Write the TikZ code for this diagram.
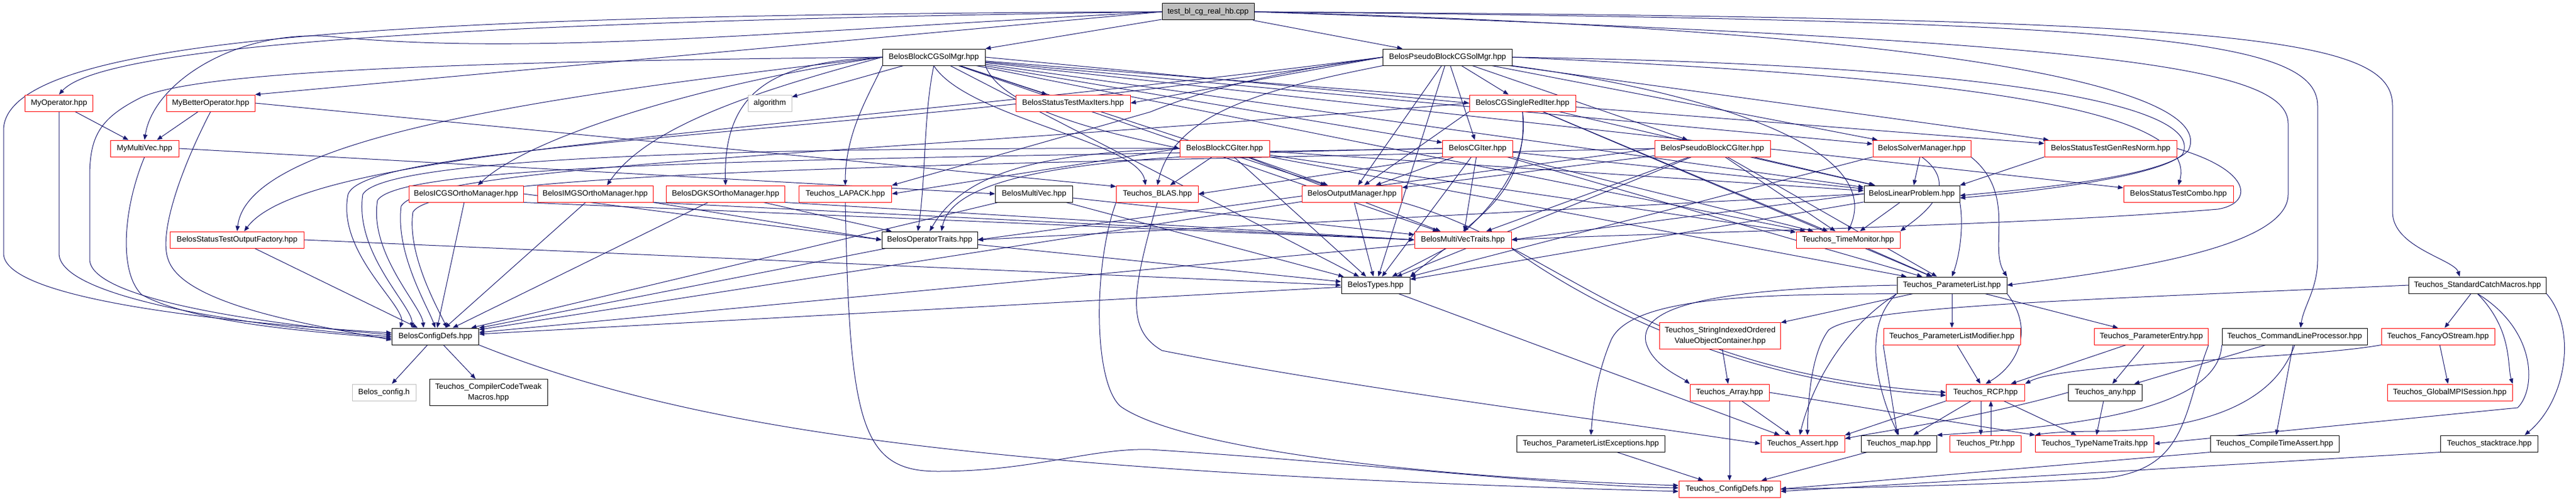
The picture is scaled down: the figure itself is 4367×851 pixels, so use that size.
\documentclass[tikz,border=0pt]{standalone}
\usepackage{fontspec}
\setmainfont{Liberation Sans}
\usetikzlibrary{arrows.meta,backgrounds}
\definecolor{eblue}{RGB}{25,25,112}
\definecolor{nred}{RGB}{255,0,0}
\definecolor{ngray}{RGB}{191,191,191}
\newcommand{\nf}{\fontsize{13.3}{18}\selectfont}
\begin{document}
\begin{tikzpicture}[x=1pt,y=-1pt,
 nd/.style={line width=1pt, minimum height=28pt, inner sep=0pt, font=\nf, fill=white},
 rn/.style={nd, draw=nred},
 bn/.style={nd, draw=black},
 gn/.style={nd, draw=ngray},
 e/.style={draw=eblue, line width=1pt, -{Triangle[length=9pt,width=7pt]}},
]
\useasboundingbox (0,0) rectangle (4367,851);
% ---------------- nodes
\node[nd, draw=black, fill=ngray, minimum width=156pt] (T) at (2048,20) {test\_bl\_cg\_real\_hb.cpp};
\node[bn, minimum width=174pt] (B) at (1583,97) {BelosBlockCGSolMgr.hpp};
\node[bn, minimum width=219pt] (P) at (2454,97) {BelosPseudoBlockCGSolMgr.hpp};
\node[rn, minimum width=115pt] (MyOp) at (100,175) {MyOperator.hpp};
\node[rn, minimum width=150pt] (MyBOp) at (357,175) {MyBetterOperator.hpp};
\node[gn, minimum width=74pt] (alg) at (1305,175) {algorithm};
\node[rn, minimum width=194pt] (MaxIt) at (1819,175) {BelosStatusTestMaxIters.hpp};
\node[rn, minimum width=180pt] (CGSR) at (2581,175) {BelosCGSingleRedIter.hpp};
\node[rn, minimum width=116pt] (MyMV) at (245,252) {MyMultiVec.hpp};
\node[rn, minimum width=152pt] (BCGI) at (2076,252) {BelosBlockCGIter.hpp};
\node[rn, minimum width=119pt] (CGI) at (2505,252) {BelosCGIter.hpp};
\node[rn, minimum width=196pt] (PBCGI) at (2903,252) {BelosPseudoBlockCGIter.hpp};
\node[rn, minimum width=166pt] (SM) at (3258,252) {BelosSolverManager.hpp};
\node[rn, minimum width=224pt] (GRN) at (3578,252) {BelosStatusTestGenResNorm.hpp};
\node[rn, minimum width=194pt] (ICGS) at (790,329) {BelosICGSOrthoManager.hpp};
\node[rn, minimum width=196pt] (IMGS) at (1009,329) {BelosIMGSOrthoManager.hpp};
\node[rn, minimum width=201pt] (DGKS) at (1230,329) {BelosDGKSOrthoManager.hpp};
\node[rn, minimum width=157pt] (LAPACK) at (1433,329) {Teuchos\_LAPACK.hpp};
\node[bn, minimum width=131pt] (MV) at (1753,329) {BelosMultiVec.hpp};
\node[rn, minimum width=139pt] (BLAS) at (1962,329) {Teuchos\_BLAS.hpp};
\node[rn, minimum width=169pt] (OM) at (2292,329) {BelosOutputManager.hpp};
\node[bn, minimum width=162pt] (LP) at (3241,329) {BelosLinearProblem.hpp};
\node[rn, minimum width=186pt] (Combo) at (3693,329) {BelosStatusTestCombo.hpp};
\node[rn, minimum width=227pt] (STOF) at (402,407) {BelosStatusTestOutputFactory.hpp};
\node[bn, minimum width=162pt] (OT) at (1576,407) {BelosOperatorTraits.hpp};
\node[rn, minimum width=164pt] (MVT) at (2480,407) {BelosMultiVecTraits.hpp};
\node[rn, minimum width=176pt] (TM) at (3133,407) {Teuchos\_TimeMonitor.hpp};
\node[bn, minimum width=116pt] (BT) at (2332,484) {BelosTypes.hpp};
\node[bn, minimum width=186pt] (PL) at (3309,484) {Teuchos\_ParameterList.hpp};
\node[bn, minimum width=233pt] (SCM) at (4200,484) {Teuchos\_StandardCatchMacros.hpp};
\node[bn, minimum width=147pt] (BCD) at (738,571) {BelosConfigDefs.hpp};
\node[rn, minimum width=205pt, minimum height=45pt, align=center] (SIO) at (2916,570) {Teuchos\_StringIndexedOrdered\\ValueObjectContainer.hpp};
\node[rn, minimum width=232pt] (PLM) at (3309,571) {Teuchos\_ParameterListModifier.hpp};
\node[rn, minimum width=193pt] (PE) at (3647,571) {Teuchos\_ParameterEntry.hpp};
\node[bn, minimum width=246pt] (CLP) at (3890,571) {Teuchos\_CommandLineProcessor.hpp};
\node[rn, minimum width=192pt] (FOS) at (4133,571) {Teuchos\_FancyOStream.hpp};
\node[gn, minimum width=108pt] (Bcfg) at (651,666) {Belos\_config.h};
\node[bn, minimum width=200pt, minimum height=45pt, align=center] (CCTM) at (828,666) {Teuchos\_CompilerCodeTweak\\Macros.hpp};
\node[rn, minimum width=134pt] (Arr) at (2932,666) {Teuchos\_Array.hpp};
\node[rn, minimum width=133pt] (RCP) at (3366,666) {Teuchos\_RCP.hpp};
\node[bn, minimum width=125pt] (any) at (3569,666) {Teuchos\_any.hpp};
\node[rn, minimum width=212pt] (MPI) at (4153,666) {Teuchos\_GlobalMPISession.hpp};
\node[bn, minimum width=251pt] (PLE) at (2697,753) {Teuchos\_ParameterListExceptions.hpp};
\node[rn, minimum width=142pt] (Asrt) at (3056,753) {Teuchos\_Assert.hpp};
\node[bn, minimum width=128pt] (map) at (3219,753) {Teuchos\_map.hpp};
\node[rn, minimum width=121pt] (Ptr) at (3366,753) {Teuchos\_Ptr.hpp};
\node[rn, minimum width=201pt] (TNT) at (3551,753) {Teuchos\_TypeNameTraits.hpp};
\node[bn, minimum width=218pt] (CTA) at (3856,753) {Teuchos\_CompileTimeAssert.hpp};
\node[bn, minimum width=165pt] (stk) at (4220,753) {Teuchos\_stacktrace.hpp};
\node[rn, minimum width=172pt] (TCD) at (2932,830) {Teuchos\_ConfigDefs.hpp};
% ---------------- edges
\begin{pgfonlayer}{background}
\fill[white] (0,0) rectangle (4367,851);
% test file
\draw[e] (T) -- (B);
\draw[e] (T) -- (P);
\draw[e] (T.west) -- (MyBOp.north east);
\draw[e] (T.west) .. controls (900,35) and (180,70) .. (MyOp.north);
\draw[e] (T.west) .. controls (1300,55) and (900,95) .. (560,62) .. controls (400,50) and (260,140) .. (MyMV.north);
\draw[e] (T.west) .. controls (700,25) and (10,60) .. (6,220) -- (6,430) .. controls (6,520) and (500,555) .. ([yshift=6pt]BCD.west);
\draw[e] (T.east) .. controls (3300,50) and (3760,150) .. (3710,255) .. controls (3670,300) and (3450,320) .. ([yshift=-3pt]LP.east);
\draw[e] (T.east) .. controls (3550,70) and (3879,110) .. (3879,210) -- (3879,330) .. controls (3879,420) and (3600,460) .. (PL.east);
\draw[e] (T.east) .. controls (3600,35) and (3929,60) .. (3929,180) -- (3929,440) .. controls (3929,490) and (3905,520) .. ([xshift=10pt]CLP.north);
\draw[e] (T.east) .. controls (3800,30) and (4056,60) .. (4056,180) -- (4056,360) .. controls (4056,420) and (4160,440) .. ([xshift=-30pt]SCM.north);
% BelosBlockCGSolMgr
\draw[e] (B) -- (alg);
\draw[e] (B) -- (MaxIt);
\draw[e] (B.south west) .. controls (1480,150) and (1433,220) .. (LAPACK.north);
\draw[e] (B.west) .. controls (1330,105) and (1225,140) .. (DGKS.north);
\draw[e] (B.west) .. controls (1200,140) and (900,230) .. ([xshift=20pt]ICGS.north);
\draw[e] (B.west) .. controls (1300,150) and (1100,210) .. ([xshift=20pt]IMGS.north);
\draw[e] (B.west) .. controls (950,160) and (420,230) .. (STOF.north);
\draw[e] (B.west) .. controls (700,105) and (330,125) .. (240,165) .. controls (170,200) and (152,230) .. (152,300) -- (152,440) .. controls (152,520) and (560,560) .. ([yshift=3pt]BCD.west);
\draw[e] (B.south east) .. controls (1700,190) and (1900,230) .. (BCGI.west);
\draw[e] (B.south) .. controls (1640,200) and (1930,240) .. ([xshift=-20pt]BLAS.north);
\draw[e] (B.south) .. controls (1565,200) and (1570,300) .. ([xshift=-20pt]OT.north);
\draw[e] (B) -- (MVT);
\draw[e] (B) -- (OM);
\draw[e] (B) -- (BT);
\draw[e] (B) -- (CGI);
\draw[e] (B.east) -- (CGSR.west);
\draw[e] (B) -- (SM);
\draw[e] (B) -- (GRN);
\draw[e] (B) -- (Combo);
\draw[e] (B) -- (LP);
\draw[e] (B) -- (TM);
% BelosPseudoBlockCGSolMgr
\draw[e] (P) -- (CGSR);
\draw[e] (P) -- (CGI);
\draw[e] (P) -- (PBCGI);
\draw[e] (P) -- (OM);
\draw[e] (P) -- (BT);
\draw[e] (P.west) -- (MaxIt.east);
\draw[e] (P.west) .. controls (2100,130) and (2000,170) .. (1950,190) -- (LAPACK.north east);
\draw[e] (P.south west) .. controls (2150,150) and (1990,190) .. (BLAS.north);
\draw[e] (P.west) .. controls (1300,230) and (520,250) .. ([xshift=12pt]STOF.north);
\draw[e] (P.west) .. controls (1500,230) and (620,240) .. (590,330) .. controls (570,430) and (690,520) .. ([xshift=-60pt]BCD.north);
\draw[e] (P) -- (SM);
\draw[e] (P) -- (GRN);
\draw[e] (P.east) .. controls (3300,130) and (3730,180) .. (Combo.north);
\draw[e] (P.east) .. controls (3400,110) and (3740,180) .. (3700,262) .. controls (3660,300) and (3450,325) .. ([yshift=-7pt]LP.east);
\draw[e] (P.south east) .. controls (2850,150) and (3200,240) .. (TM.north);
% BelosBlockCGIter
\draw[e] (BCGI.west) .. controls (1800,260) and (1640,280) .. (OT.north);
\draw[e] (BCGI) -- (BLAS);
\draw[e] (BCGI.west) -- (LAPACK.east);
\draw[e] (BCGI) -- (MVT);
\draw[e] (BCGI) -- (OM);
\draw[e] (BCGI) -- (BT);
\draw[e] (BCGI) -- (LP);
\draw[e] (BCGI) -- (TM);
\draw[e] (BCGI) -- (PL);
\draw[e] (BCGI.west) .. controls (1300,250) and (650,265) .. (615,330) .. controls (600,430) and (700,520) .. ([xshift=-40pt]BCD.north);
% BelosCGIter
\draw[e] (CGI) -- (OM);
\draw[e] (CGI) -- (MVT);
\draw[e] (CGI) -- (BT);
\draw[e] (CGI) -- (LP);
\draw[e] (CGI.west) .. controls (2000,260) and (1620,270) .. ([xshift=20pt]OT.north);
\draw[e] (CGI) -- (TM);
\draw[e] (CGI) -- (PL);
\draw[e] (CGI.south west) -- (BLAS.east);
\draw[e] (CGI.west) .. controls (1400,270) and (680,275) .. (640,340) .. controls (625,430) and (715,520) .. ([xshift=-20pt]BCD.north);
% BelosCGSingleRedIter
\draw[e] (CGSR.south west) -- (OM);
\draw[e] (CGSR.south) .. controls (2590,300) and (2530,350) .. (MVT.north);
\draw[e] (CGSR.south) .. controls (2600,320) and (2450,420) .. (BT.north east);
\draw[e] (CGSR) -- (LP);
\draw[e] (CGSR) -- (TM);
\draw[e] (CGSR) -- (PL);
\draw[e] (CGSR.west) .. controls (1500,260) and (720,280) .. (680,350) .. controls (670,430) and (725,520) .. (BCD.north);
% BelosPseudoBlockCGIter
\draw[e] (PBCGI) -- (OM);
\draw[e] (PBCGI) -- (MVT);
\draw[e] (PBCGI) -- (BT);
\draw[e] (PBCGI) -- (LP);
\draw[e] (PBCGI) -- (TM);
\draw[e] (PBCGI) -- (PL);
\draw[e] (PBCGI.west) -- (OT.east);
\draw[e] (PBCGI.west) .. controls (1600,280) and (740,290) .. (700,360) .. controls (690,430) and (740,520) .. ([xshift=20pt]BCD.north);
% BelosSolverManager
\draw[e] (SM) -- (LP);
\draw[e] (SM.south west) -- (BT.north east);
\draw[e] (SM.south east) .. controls (3420,330) and (3370,420) .. (PL.north east);
\draw[e] (SM.south) .. controls (3330,320) and (3250,370) .. (TM.north east);
% BelosStatusTestGenResNorm
\draw[e] (GRN.south west) -- (LP.north east);
\draw[e] (GRN.east) .. controls (3820,290) and (3820,345) .. (3760,355) .. controls (3400,385) and (2800,395) .. (MVT.east);
% BelosLinearProblem
\draw[e] (LP.west) -- (MVT.east);
\draw[e] (LP.west) -- (OT.east);
\draw[e] (LP) -- (TM);
\draw[e] (LP.south east) .. controls (3330,390) and (3320,440) .. (PL.north);
\draw[e] (LP) -- (BT);
% BelosOutputManager
\draw[e] (OM) -- (BT);
\draw[e] (OM) -- (BCD);
\draw[e] (OM.south east) .. controls (2650,420) and (2780,630) .. (RCP.west);
% BelosMultiVecTraits
\draw[e] (MVT) -- (BT);
\draw[e] (MVT.south east) .. controls (2700,520) and (2950,650) .. ([yshift=-5pt]RCP.west);
\draw[e] (MVT) -- (BCD);
% BelosOperatorTraits
\draw[e] (OT) -- (BT);
\draw[e] (OT) -- (BCD);
% BelosMultiVec
\draw[e] (MV) -- (MVT);
\draw[e] (MV) -- (BT);
\draw[e] (MV) -- (BCD);
% Teuchos_TimeMonitor
\draw[e] (TM) -- (PL);
% Teuchos_ParameterList
\draw[e] (PL) -- (SIO);
\draw[e] (PL) -- (PLM);
\draw[e] (PL) -- (PE);
\draw[e] (PL.south east) .. controls (3450,560) and (3420,620) .. (RCP.north);
\draw[e] (PL.south west) .. controls (3120,560) and (3070,660) .. ([xshift=-5pt]Asrt.north);
\draw[e] (PL.west) .. controls (2900,490) and (2780,520) .. (2790,580) .. controls (2800,620) and (2850,640) .. (Arr.north west);
\draw[e] (PL.south west) .. controls (3000,500) and (2760,500) .. (2730,580) .. controls (2705,640) and (2700,700) .. (PLE.north);
\draw[e] (PL.south west) .. controls (3150,560) and (3190,680) .. (map.north);
% Teuchos lower part
\draw[e] (SIO) -- (Arr);
\draw[e] (Arr) -- (Asrt);
\draw[e] (Arr) -- (TCD);
\draw[e] (Arr.east) -- (TNT.north west);
\draw[e] (PLE) -- (TCD);
\draw[e] (PLM) -- (RCP);
\draw[e] (PLM.south west) -- (map);
\draw[e] (PE) -- (RCP);
\draw[e] (PE) -- (any);
\draw[e] (PE.south east) .. controls (3700,700) and (3710,800) .. (3560,812) .. controls (3400,822) and (3150,828) .. (TCD.east);
\draw[e] (CLP) -- (any);
\draw[e] (CLP.south west) .. controls (3760,700) and (3500,725) .. (map.north east);
\draw[e] (CLP.south) .. controls (3850,700) and (3700,730) .. (3560,732) .. controls (3500,732) and (3470,735) .. (TNT.north west);
\draw[e] (CLP) -- (CTA);
\draw[e] (FOS.south west) .. controls (3900,610) and (3500,615) .. (RCP.north east);
\draw[e] (FOS) -- (MPI);
\draw[e] (SCM) -- (FOS);
\draw[e] (SCM.south) .. controls (4260,560) and (4250,620) .. (MPI.north east);
\draw[e] (SCM.south) .. controls (4300,560) and (4300,660) .. (4268,692) -- (TNT.east);
\draw[e] (SCM.south east) .. controls (4370,560) and (4350,680) .. ([xshift=60pt]stk.north);
\draw[e] (SCM.west) .. controls (3500,510) and (3150,520) .. (3100,560) .. controls (3070,600) and (3065,680) .. ([xshift=8pt]Asrt.north);
\draw[e] ([xshift=-8pt]RCP.south) -- ([xshift=-8pt]Ptr.north);
\draw[e] ([xshift=9pt]Ptr.north) -- ([xshift=9pt]RCP.south);
\draw[e] (RCP) -- (TNT);
\draw[e] (RCP) -- (map);
\draw[e] (RCP.south west) -- (Asrt.north east);
\draw[e] (any) -- (TNT);
\draw[e] (any.west) .. controls (3350,710) and (3200,730) .. ([yshift=-6pt]Asrt.north east);
\draw[e] (map) -- (TCD);
\draw[e] (CTA.south west) -- (TCD.east);
\draw[e] (stk.south west) -- ([yshift=-4pt]TCD.east);
% Belos config
\draw[e] (BCD) -- (Bcfg);
\draw[e] (BCD) -- (CCTM);
\draw[e] (BCD.south east) .. controls (1150,720) and (1600,800) .. ([yshift=-4pt]TCD.west);
\draw[e] (BT) -- (BCD);
\draw[e] (BT) -- (Asrt);
% BLAS / LAPACK
\draw[e] (LAPACK.south) .. controls (1440,720) and (1460,800) .. (1590,800) .. controls (1750,800) and (1850,760) .. (1950,763) .. controls (2300,785) and (2650,825) .. ([yshift=2pt]TCD.west);
\draw[e] (BLAS.south west) .. controls (1853,450) and (1853,650) .. (1900,690) .. controls (2000,760) and (2400,810) .. ([yshift=6pt]TCD.west);
\draw[e] (BLAS.south) .. controls (1917,500) and (1910,560) .. (1970,595) .. controls (2300,660) and (2700,710) .. (Asrt.west);
% ortho managers
\draw[e] (ICGS) -- (BCD);
\draw[e] (IMGS) -- (BCD);
\draw[e] (DGKS) -- (BCD);
\draw[e] (ICGS.east) -- (OT.west);
\draw[e] (IMGS.south east) -- (OT.west);
\draw[e] (DGKS) -- (OT);
\draw[e] (ICGS.south east) -- (MVT.west);
\draw[e] (IMGS.south east) -- (MVT.west);
\draw[e] (DGKS.south east) -- (MVT.west);
% status test output factory
\draw[e] (STOF) -- (BCD);
\draw[e] (STOF.east) -- (BT.west);
% My* files
\draw[e] (MyOp.south) -- (100,430) .. controls (100,520) and (550,565) .. (BCD.west);
\draw[e] (MyOp) -- (MyMV);
\draw[e] (MyBOp) -- (MyMV);
\draw[e] (MyBOp.south) .. controls (300,300) and (270,400) .. (285,440) .. controls (310,520) and (550,555) .. ([yshift=-6pt]BCD.west);
\draw[e] (MyBOp.east) -- ([yshift=-2pt]BLAS.north west);
\draw[e] (MyMV.south) .. controls (210,350) and (200,460) .. (240,500) .. controls (330,550) and (550,565) .. ([yshift=-3pt]BCD.west);
\draw[e] (MyMV.east) -- (MV.west);
\end{pgfonlayer}
\end{tikzpicture}
\end{document}
